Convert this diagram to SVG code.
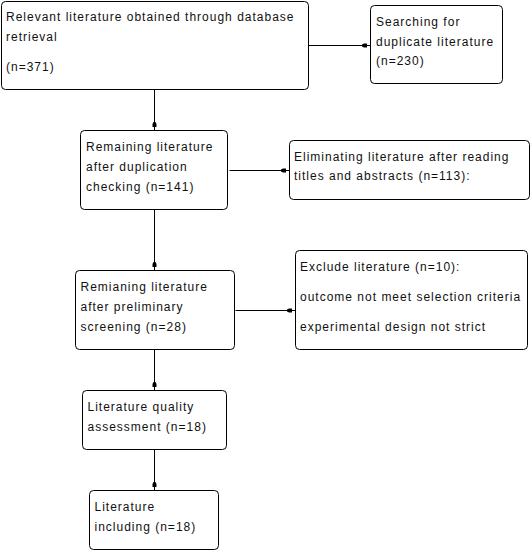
<svg xmlns="http://www.w3.org/2000/svg" width="531" height="550" viewBox="0 0 531 550">
<style>
.box{fill:#fff;stroke:#000;stroke-width:1}
.t{font-family:"Liberation Sans",Arial,sans-serif;font-size:12px;letter-spacing:1px;fill:#111}
.c{stroke:#000;stroke-width:1;fill:none;marker-end:url(#ah)}
</style>
<defs>
<marker id="ah" markerUnits="userSpaceOnUse" markerWidth="10" markerHeight="8" viewBox="-9 -4 10 8" refX="0" refY="0" orient="auto">
<path d="M-8,-1 L-6,-2 L-3,-2 L-3,2 L-6,2 L-8,1 z" fill="#000"/>
</marker>
</defs>
<rect width="531" height="550" fill="#fff"/>
<g id="connectors">
<line class="c" x1="309" y1="45.5" x2="370" y2="45.5"/>
<line class="c" x1="154.5" y1="89.5" x2="154.5" y2="130"/>
<line class="c" x1="229.5" y1="170.5" x2="289" y2="170.5"/>
<line class="c" x1="154.5" y1="209.5" x2="154.5" y2="270"/>
<line class="c" x1="235.5" y1="310.5" x2="295" y2="310.5"/>
<line class="c" x1="154.5" y1="349.5" x2="154.5" y2="390"/>
<line class="c" x1="154.5" y1="449.5" x2="154.5" y2="490"/>
</g>
<g id="n1">
<rect class="box" x="1.5" y="1.5" width="307" height="88" rx="4"/>
<text class="t" x="6" y="21">Relevant literature obtained through database</text>
<text class="t" x="6" y="41">retrieval</text>
<text class="t" x="6" y="71">(n=371)</text>
</g>
<g id="n2">
<rect class="box" x="370.5" y="5.5" width="132" height="78" rx="4"/>
<text class="t" x="376" y="26">Searching for</text>
<text class="t" x="376" y="46">duplicate literature</text>
<text class="t" x="376" y="65">(n=230)</text>
</g>
<g id="n3">
<rect class="box" x="80.5" y="130.5" width="147" height="79" rx="4"/>
<text class="t" x="86" y="151">Remaining literature</text>
<text class="t" x="86" y="171">after duplication</text>
<text class="t" x="86" y="191">checking (n=141)</text>
</g>
<g id="n4">
<rect class="box" x="289.5" y="140.5" width="240" height="59" rx="4"/>
<text class="t" x="294" y="161">Eliminating literature after reading</text>
<text class="t" x="294" y="180">titles and abstracts (n=113):</text>
</g>
<g id="n5">
<rect class="box" x="75.5" y="270.5" width="159" height="79" rx="4"/>
<text class="t" x="80.5" y="291">Remianing literature</text>
<text class="t" x="80.5" y="311">after preliminary</text>
<text class="t" x="80.5" y="331">screening (n=28)</text>
</g>
<g id="n6">
<rect class="box" x="295.5" y="250.5" width="232" height="99" rx="4"/>
<text class="t" x="300" y="271">Exclude literature (n=10):</text>
<text class="t" x="300" y="301">outcome not meet selection criteria</text>
<text class="t" x="300" y="331">experimental design not strict</text>
</g>
<g id="n7">
<rect class="box" x="82.5" y="390.5" width="144" height="59" rx="4"/>
<text class="t" x="87.5" y="411">Literature quality</text>
<text class="t" x="87.5" y="431">assessment (n=18)</text>
</g>
<g id="n8">
<rect class="box" x="89.5" y="490.5" width="129" height="59" rx="4"/>
<text class="t" x="94.5" y="511">Literature</text>
<text class="t" x="94.5" y="531">including (n=18)</text>
</g>
</svg>
